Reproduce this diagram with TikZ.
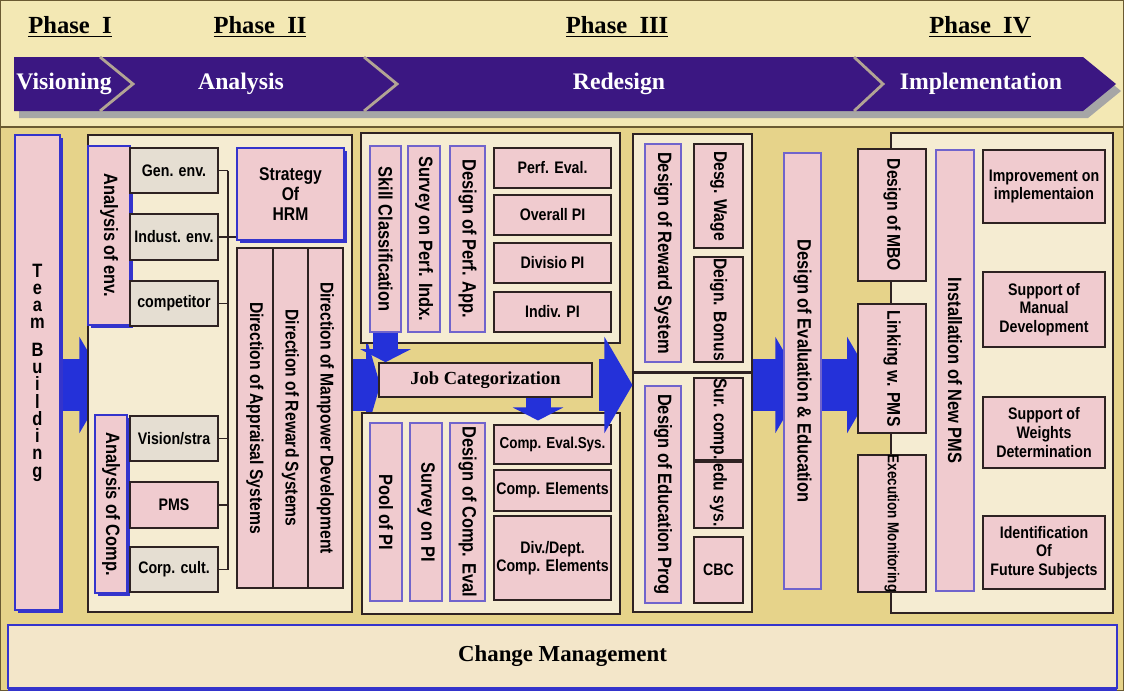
\documentclass[tikz,border=0pt]{standalone}
\usepackage{fontspec}
\setmainfont{Liberation Serif}
\newfontfamily\boxfont[FakeStretch=0.85]{Liberation Sans}
\usetikzlibrary{arrows.meta,shadows}

\definecolor{topbg}{HTML}{F3E8B4}
\definecolor{mainbg}{HTML}{E6D38A}
\definecolor{creamfill}{HTML}{F5ECD2}
\definecolor{pinkfill}{HTML}{F0CBCF}
\definecolor{greyfill}{HTML}{E5DED2}
\definecolor{bandpurple}{HTML}{3B1782}
\definecolor{chevron}{HTML}{B2A494}
\definecolor{arrowblue}{HTML}{2431D9}
\definecolor{bluebd}{HTML}{3434CC}
\definecolor{violetbd}{HTML}{7064CC}
\definecolor{darkbd}{HTML}{2E2222}
\definecolor{framebd}{HTML}{6A5A32}
\definecolor{changefill}{HTML}{F3E6C9}

\pgfdeclarelayer{back}
\pgfdeclarelayer{under}
\pgfsetlayers{back,under,main}

\newcommand{\vtxt}[1]{\rotatebox{-90}{#1}}

\begin{document}
\begin{tikzpicture}[x=0.02cm,y=-0.02cm,
        wh/.style 2 args={minimum width=#1*0.02cm,minimum height=#2*0.02cm},
        lbl/.style={font=\boxfont\bfseries\fontsize{9.5}{10.6}\selectfont,align=center,inner sep=0pt},
        vert/.style={font=\boxfont\bfseries\fontsize{10.5}{11}\selectfont},
        grp/.style={draw=darkbd,line width=0.6pt,fill=creamfill,inner sep=0pt},
        pinkbox/.style={lbl,draw=darkbd,line width=0.9pt,fill=pinkfill},
        greybox/.style={pinkbox,fill=greyfill},
        vblue/.style={lbl,font=\boxfont\bfseries\fontsize{11}{11}\selectfont,draw=violetbd,line width=0.7pt,fill=pinkfill},
        pinkblue/.style={vblue,draw=bluebd,general shadow={fill=bluebd,shadow xshift=1.6pt,shadow yshift=-1.6pt}},
        link/.style={draw=darkbd,line width=0.7pt},
        barrow/.style={draw=arrowblue,line width=1.04cm,-{Triangle[length=0.56cm,width=1.9cm]}},
        darrow/.style={draw=arrowblue,line width=0.5cm,-{Triangle[length=0.26cm,width=1cm]}},
        phase/.style={font=\bfseries\fontsize{14}{14}\selectfont,text=black},
        band/.style={font=\bfseries\fontsize{13.5}{14}\selectfont,text=white}
    ]
\useasboundingbox (0,0) rectangle (1124,691);

\begin{pgfonlayer}{back}
    \fill[topbg] (0,0) rectangle (1124,127);
    \fill[mainbg] (0,127) rectangle (1124,691);
    \draw[framebd,line width=1.2pt] (0,127) -- (1124,127);
    \draw[framebd,line width=0.8pt] (0.5,0.5) rectangle (1123.5,690.5);
\end{pgfonlayer}

% phase band
\fill[black!35] (19,64) -- (1088,64) -- (1121,91) -- (1088,118) -- (19,118) -- cycle;
\fill[bandpurple] (14,57) -- (1083,57) -- (1116,84) -- (1083,111) -- (14,111) -- cycle;
\draw[chevron,line width=1.6pt] (100,57) -- (133,84) -- (100,111);
\draw[chevron,line width=1.6pt] (364,57) -- (397,84) -- (364,111);
\draw[chevron,line width=1.6pt] (854,57) -- (883,84) -- (854,111);

\node[phase] (ph1) at (70,27) {\underline{Phase\enspace I}};
\node[phase] (ph2) at (260,27) {\underline{Phase\enspace II}};
\node[phase] (ph3) at (617,27) {\underline{Phase\enspace III}};
\node[phase] (ph4) at (980,27) {\underline{Phase\enspace IV}};

\node[band] (vis) at (64,84) {Visioning};
\node[band] (ana) at (241,84) {Analysis};
\node[band] (rede) at (619,84) {Redesign};
\node[band] (impl) at (981,84) {Implementation};

% groups
\node[grp,wh={264}{477}] (grpA) at (220,373.5) {};
\node[grp,wh={259}{210}] (upIII) at (490.5,238) {};
\node[grp,wh={258}{201}] (lowIII) at (491,513.5) {};
\node[grp,wh={119}{238}] (rewgrp) at (692.5,253) {};
\node[grp,wh={119}{239}] (edugrp) at (692.5,492.5) {};
\node[grp,wh={222}{480}] (impgrp) at (1002,373) {};

\node[pinkblue,wh={45}{475},font=\boxfont\bfseries\fontsize{11}{9.8}\selectfont] (teamb) at (37.5,372.5)
    {T\\e\\a\\m\\[6pt]B\\u\\i\\l\\d\\i\\n\\g};

% analysis
\node[pinkblue,wh={42}{179}] (anenv) at (109,235.5) {\vtxt{Analysis of env.}};
\node[greybox,wh={88}{45}] (genenv) at (174,170.5) {Gen. env.};
\node[greybox,wh={88}{46}] (indenv) at (174,237) {Indust. env.};
\node[greybox,wh={88}{45}] (compet) at (174,303.5) {competitor};
\node[pinkblue,wh={32}{178}] (ancomp) at (111,504) {\vtxt{Analysis of Comp.}};
\node[greybox,wh={88}{45}] (vision) at (174,438.5) {Vision/stra};
\node[pinkbox,wh={88}{46}] (pms) at (174,505) {PMS};
\node[greybox,wh={88}{45}] (corp) at (174,569.5) {Corp. cult.};
\node[pinkblue,wh={107}{92},font=\boxfont\bfseries\fontsize{10.5}{11.4}\selectfont] (strat) at (290.5,194) {Strategy\\Of\\HRM};
\node[pinkbox,vert,wh={36}{340}] (dirapp) at (255,418) {\vtxt{Direction of Appraisal Systems}};
\node[pinkbox,vert,wh={35}{340}] (dirrew) at (290.5,418) {\vtxt{Direction of Reward Systems}};
\node[pinkbox,vert,wh={35}{340}] (dirman) at (325.5,418) {\vtxt{Direction of Manpower Development}};

\coordinate (busT) at (228,172);
\coordinate (busB) at (228,570);
\draw[link] (genenv.east) -- (genenv.east -| busT);
\draw[link] (indenv.east) -- (indenv.east -| strat.west);
\draw[link] (compet.east) -- (compet.east -| busT);
\draw[link] (vision.east) -- (vision.east -| busT);
\draw[link] (pms.east) -- (pms.east -| busT);
\draw[link] (corp.east) -- (corp.east -| busT);
\draw[link] (genenv.east -| busT) -- (corp.east -| busT);

% redesign
\node[vblue,wh={31}{186}] (skill) at (385.5,239) {\vtxt{Skill Classification}};
\node[vblue,wh={32}{186}] (survperf) at (424,239) {\vtxt{Survey on Perf. Indx.}};
\node[vblue,wh={35}{186}] (desperf) at (467.5,239) {\vtxt{Design of Perf. App.}};
\node[pinkbox,wh={117}{40}] (perfeval) at (552.5,168) {Perf. Eval.};
\node[pinkbox,wh={117}{40}] (overall) at (552.5,215) {Overall PI};
\node[pinkbox,wh={117}{40}] (divisio) at (552.5,263) {Divisio PI};
\node[pinkbox,wh={117}{40}] (indiv) at (552.5,312) {Indiv. PI};

\node[pinkbox,wh={213}{34},font=\bfseries\fontsize{10.5}{11}\selectfont] (jobcat) at (485.5,380) {Job Categorization};

\node[vblue,wh={32}{178}] (pool) at (386,512) {\vtxt{Pool of PI}};
\node[vblue,wh={32}{178}] (survpi) at (426,512) {\vtxt{Survey on PI}};
\node[vblue,wh={35}{178}] (descomp) at (467.5,512) {\vtxt{Design of Comp. Eval}};
\node[pinkbox,wh={117}{39},font=\boxfont\bfseries\fontsize{9}{10}\selectfont] (compeval) at (552.5,444.5) {Comp. Eval.Sys.};
\node[pinkbox,wh={117}{41}] (compel) at (552.5,490.5) {Comp. Elements};
\node[pinkbox,wh={117}{84}] (divdept) at (552.5,558) {Div./Dept.\\Comp. Elements};

\node[vblue,wh={36}{218}] (desrew) at (663,253) {\vtxt{Design of Reward System}};
\node[pinkbox,vert,wh={49}{104}] (wage) at (718.5,196) {\vtxt{Desg. Wage}};
\node[pinkbox,vert,wh={49}{105}] (bonus) at (718.5,309.5) {\vtxt{Deign. Bonus}};
\node[vblue,wh={36}{217}] (desedu) at (663,494.5) {\vtxt{Design of Education Prog}};
\node[pinkbox,vert,wh={49}{66}] (surcomp) at (718.5,419) {\vtxt{Sur. comp.}};
\node[pinkbox,vert,wh={49}{66}] (edusys) at (718.5,495) {\vtxt{edu sys.}};
\node[pinkbox,wh={49}{66}] (cbc) at (718.5,570) {CBC};

\node[vblue,wh={37}{436}] (evaled) at (802.5,371) {\vtxt{Design of Evaluation \& Education}};

% implementation
\node[pinkbox,vert,wh={68}{132}] (mbo) at (892,215) {\vtxt{Design of MBO}};
\node[pinkbox,vert,wh={68}{129}] (linking) at (892,368.5) {\vtxt{Linking w. PMS}};
\node[pinkbox,wh={68}{131},font=\boxfont\bfseries\fontsize{9}{10}\selectfont] (exec) at (892,523.5) {\vtxt{Execution Monitoring}};
\node[vblue,wh={38}{441}] (install) at (955,370.5) {\vtxt{Installation of New PMS}};
\node[pinkbox,wh={122}{73}] (improve) at (1044,186.5) {Improvement on\\implementaion};
\node[pinkbox,wh={122}{75}] (manual) at (1044,309.5) {Support of\\Manual\\Development};
\node[pinkbox,wh={122}{71}] (weights) at (1044,432.5) {Support of\\Weights\\Determination};
\node[pinkbox,wh={122}{73}] (ident) at (1044,552.5) {Identification\\Of\\Future Subjects};

\node[lbl,draw=bluebd,line width=0.9pt,fill=changefill,wh={1109}{63},
      general shadow={fill=bluebd,shadow xshift=0pt,shadow yshift=-1.6pt},
      font=\bfseries\fontsize{13}{14}\selectfont] (change) at (562.5,656.5) {Change Management};

% flow arrows
\coordinate (mid) at (0,385);
\coordinate (d2x) at (538,0);
\begin{pgfonlayer}{under}
    \draw[barrow,shorten >=-0.4cm] (teamb.east |- mid) -- (grpA.west |- mid);
    \draw[barrow,-{Triangle[length=0.28cm,width=1.9cm]},shorten >=-0.04cm] (grpA.east |- mid) -- (jobcat.west |- mid);
    \draw[barrow,shorten >=-0.4cm] (rewgrp.east |- mid) -- (evaled.west |- mid);
    \draw[barrow,shorten >=-0.36cm] (evaled.east |- mid) -- (linking.west |- mid);
\end{pgfonlayer}
\draw[barrow,shorten <=0.12cm] (jobcat.east |- mid) -- (rewgrp.west |- mid);
\draw[darrow] (skill.south) -- (jobcat.north -| skill.south);
\draw[darrow,shorten >=-0.16cm] (jobcat.south -| d2x) -- (lowIII.north -| d2x);

\end{tikzpicture}
\end{document}
